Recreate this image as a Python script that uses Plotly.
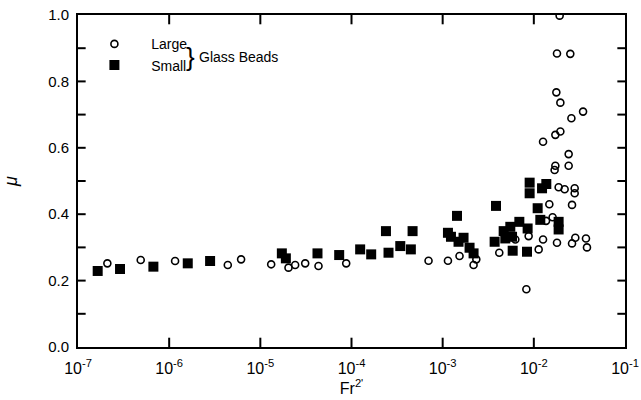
import plotly.graph_objects as go

# Large glass beads (open circles): log10(Fr2'), mu
large_logx = [-6.678, -6.312, -5.935, -5.357, -5.211, -4.881, -4.691, -4.618, -4.508, -4.362,
              -4.058, -3.155, -2.942, -2.815, -2.661, -2.631, -2.379, -2.203, -2.057, -2.082,
              -1.947, -1.899, -1.830, -1.794, -1.866, -1.746, -1.581, -1.581, -1.545, -1.428,
              -1.417, -1.717, -1.746, -1.600, -1.753, -1.709, -1.460, -1.588, -1.709, -1.764,
              -1.899, -1.618, -1.764, -1.772, -1.618, -1.728, -1.662, -1.552, -1.552]
large_mu = [0.252, 0.262, 0.259, 0.247, 0.264, 0.249, 0.239, 0.247, 0.252, 0.244,
            0.252, 0.260, 0.260, 0.274, 0.247, 0.264, 0.284, 0.324, 0.334, 0.174,
            0.294, 0.324, 0.430, 0.391, 0.380, 0.314, 0.428, 0.312, 0.329, 0.327,
            0.300, 0.998, 0.884, 0.883, 0.767, 0.736, 0.709, 0.689, 0.649, 0.639,
            0.618, 0.581, 0.546, 0.533, 0.546, 0.481, 0.475, 0.478, 0.463]

# Small glass beads (filled squares)
small_logx = [-6.784, -6.539, -6.173, -5.796, -5.551, -4.764, -4.720, -4.373, -4.135, -3.905,
              -3.784, -3.622, -3.594, -3.465, -3.349, -3.330, -2.942, -2.909, -2.843, -2.826,
              -2.771, -2.705, -2.661, -2.415, -2.430, -2.331, -2.313, -2.258, -2.239, -2.232,
              -2.159, -2.068, -2.075, -1.958, -1.929, -1.728, -1.728, -2.046, -2.046, -1.910,
              -1.863]
small_mu = [0.229, 0.235, 0.242, 0.252, 0.259, 0.282, 0.267, 0.282, 0.277, 0.294,
            0.279, 0.349, 0.284, 0.304, 0.294, 0.349, 0.344, 0.332, 0.395, 0.317,
            0.329, 0.299, 0.282, 0.425, 0.317, 0.349, 0.327, 0.362, 0.332, 0.290,
            0.377, 0.357, 0.287, 0.418, 0.383, 0.377, 0.354, 0.495, 0.463, 0.478,
            0.491]

x_tickvals = [1e-7, 1e-6, 1e-5, 1e-4, 1e-3, 1e-2, 1e-1]
x_ticktext = ["10<sup>-7</sup>", "10<sup>-6</sup>", "10<sup>-5</sup>", "10<sup>-4</sup>",
              "10<sup>-3</sup>", "10<sup>-2</sup>", "10<sup>-1</sup>"]
y_tickvals = [0.0, 0.2, 0.4, 0.6, 0.8, 1.0]
y_ticktext = ["0.0", "0.2", "0.4", "0.6", "0.8", "1.0"]
y_minor_ticks = [0.1, 0.2, 0.3, 0.4, 0.5, 0.6, 0.7, 0.8, 0.9]

FONT = "Liberation Sans"

fig = go.Figure()
fig.add_trace(go.Scatter(
    x=[10 ** v for v in large_logx], y=large_mu, mode="markers", name="\u2003\u2009Large",
    marker=dict(symbol="circle-open", size=7, color="black", line=dict(width=1.6, color="black")),
))
fig.add_trace(go.Scatter(
    x=[10 ** v for v in small_logx], y=small_mu, mode="markers", name="\u2003\u2009Small",
    marker=dict(symbol="square", size=10, color="black", line=dict(width=0)),
))

fig.update_layout(
    width=641, height=400,
    margin=dict(l=78, r=16, t=15, b=53, autoexpand=False),
    paper_bgcolor="white", plot_bgcolor="white",
    font=dict(family=FONT, size=15, color="black"),
    showlegend=True,
    legend=dict(x=0.03, y=0.96, xanchor="left", yanchor="top",
                bgcolor="rgba(0,0,0,0)", font=dict(size=14),
                tracegroupgap=0),
    xaxis=dict(type="log", range=[-7, -1], tickmode="array", tickvals=x_tickvals, ticktext=x_ticktext,
               ticks="", automargin=False,
               showline=True, linewidth=2, linecolor="black", mirror=True,
               showgrid=False, zeroline=False, ticklabelstandoff=6,
               tickfont=dict(size=16),
               title=dict(text="Fr<sup>2'</sup>", standoff=2, font=dict(size=16))),
    yaxis=dict(range=[0, 1.0], tickmode="array", tickvals=y_tickvals, ticktext=y_ticktext,
               ticks="", automargin=False,
               showline=True, linewidth=2, linecolor="black", mirror=True,
               showgrid=False, zeroline=False, ticklabelstandoff=4,
               tickfont=dict(size=15),
               title=dict(text="<i>μ</i>", standoff=26, font=dict(size=18))),
)

# tick marks drawn inside the frame on all four sides
for xv in x_tickvals[1:-1]:
    fig.add_shape(type="line", xref="x", yref="paper", x0=xv, x1=xv, y0=0, y1=0.028,
                  line=dict(color="black", width=2), layer="above")
    fig.add_shape(type="line", xref="x", yref="paper", x0=xv, x1=xv, y0=0.972, y1=1,
                  line=dict(color="black", width=2), layer="above")
for yv in y_minor_ticks:
    fig.add_shape(type="line", xref="paper", yref="y", x0=0, x1=0.014, y0=yv, y1=yv,
                  line=dict(color="black", width=2), layer="above")
    fig.add_shape(type="line", xref="paper", yref="y", x0=0.986, x1=1, y0=yv, y1=yv,
                  line=dict(color="black", width=2), layer="above")

fig.add_annotation(xref="paper", yref="paper", x=0.206, y=0.875, text="}",
                   showarrow=False, font=dict(size=26, family=FONT), xanchor="center", yanchor="middle")
fig.add_annotation(xref="paper", yref="paper", x=0.217, y=0.873, text="Glass Beads",
                   showarrow=False, font=dict(size=14, family=FONT), xanchor="left", yanchor="middle")

fig.write_html("out.html")
